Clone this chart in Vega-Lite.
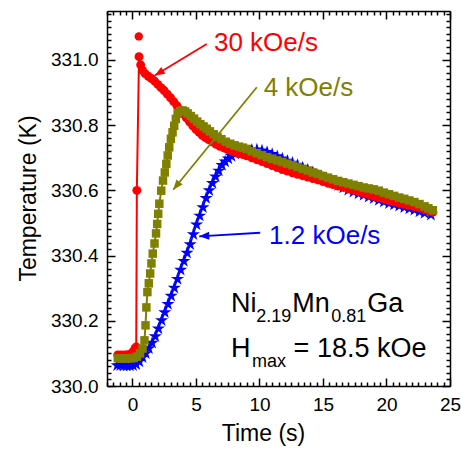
{
  "$schema": "https://vega.github.io/schema/vega-lite/v6.json",
  "width": 343,
  "height": 375,
  "autosize": "none",
  "padding": {"left": 107, "top": 11, "right": 11, "bottom": 65},
  "background": "white",
  "config": {
    "view": {"stroke": null},
    "axis": {"grid": false, "domainColor": "black", "domainWidth": 1.5, "tickColor": "black", "tickWidth": 1.5, "labelColor": "black", "labelFont": "Liberation Sans", "labelFontSize": 19, "titleFont": "Liberation Sans", "titleFontSize": 23, "titleFontWeight": "normal", "titleColor": "black", "labelOverlap": false, "labelFlush": false}
  },
  "datasets": {
    "red": [
      {"time": -1.15, "temp": 330.095}, {"time": -0.9, "temp": 330.095}, {"time": -0.65, "temp": 330.095}, {"time": -0.4, "temp": 330.096}, {"time": -0.15, "temp": 330.098}, {"time": 0.05, "temp": 330.105}, {"time": 0.2, "temp": 330.115}, {"time": 0.3, "temp": 330.12}, {"time": 0.35, "temp": 330.6}, {"time": 0.52, "temp": 331.01}, {"time": 0.65, "temp": 330.985}, {"time": 0.8, "temp": 330.968}, {"time": 1.0, "temp": 330.958}, {"time": 1.25, "temp": 330.95}, {"time": 1.5, "temp": 330.943}, {"time": 1.75, "temp": 330.935}, {"time": 2.0, "temp": 330.925}, {"time": 2.25, "temp": 330.915}, {"time": 2.5, "temp": 330.906}, {"time": 2.75, "temp": 330.895}, {"time": 3.0, "temp": 330.884}, {"time": 3.25, "temp": 330.872}, {"time": 3.5, "temp": 330.86}, {"time": 3.75, "temp": 330.847}, {"time": 4.0, "temp": 330.834}, {"time": 4.25, "temp": 330.822}, {"time": 4.5, "temp": 330.81}, {"time": 4.75, "temp": 330.798}, {"time": 5.0, "temp": 330.787}, {"time": 5.25, "temp": 330.778}, {"time": 5.5, "temp": 330.769}, {"time": 5.75, "temp": 330.762}, {"time": 6.0, "temp": 330.756}, {"time": 6.3, "temp": 330.748}, {"time": 6.6, "temp": 330.741}, {"time": 6.9, "temp": 330.735}, {"time": 7.2, "temp": 330.73}, {"time": 7.5, "temp": 330.725}, {"time": 7.8, "temp": 330.721}, {"time": 8.1, "temp": 330.717}, {"time": 8.4, "temp": 330.713}, {"time": 8.7, "temp": 330.71}, {"time": 9.0, "temp": 330.706}, {"time": 9.4, "temp": 330.7}, {"time": 9.8, "temp": 330.694}, {"time": 10.2, "temp": 330.688}, {"time": 10.6, "temp": 330.682}, {"time": 11.0, "temp": 330.676}, {"time": 11.4, "temp": 330.67}, {"time": 11.8, "temp": 330.664}, {"time": 12.2, "temp": 330.659}, {"time": 12.6, "temp": 330.654}, {"time": 13.0, "temp": 330.649}, {"time": 13.4, "temp": 330.645}, {"time": 13.8, "temp": 330.641}, {"time": 14.2, "temp": 330.636}, {"time": 14.6, "temp": 330.632}, {"time": 15.0, "temp": 330.627}, {"time": 15.4, "temp": 330.622}, {"time": 15.8, "temp": 330.618}, {"time": 16.2, "temp": 330.613}, {"time": 16.6, "temp": 330.609}, {"time": 17.0, "temp": 330.605}, {"time": 17.4, "temp": 330.6}, {"time": 17.8, "temp": 330.596}, {"time": 18.2, "temp": 330.591}, {"time": 18.6, "temp": 330.587}, {"time": 19.0, "temp": 330.582}, {"time": 19.4, "temp": 330.578}, {"time": 19.8, "temp": 330.573}, {"time": 20.2, "temp": 330.569}, {"time": 20.6, "temp": 330.565}, {"time": 21.0, "temp": 330.561}, {"time": 21.4, "temp": 330.557}, {"time": 21.8, "temp": 330.554}, {"time": 22.2, "temp": 330.55}, {"time": 22.6, "temp": 330.546}, {"time": 23.0, "temp": 330.541}, {"time": 23.3, "temp": 330.537}, {"time": 23.65, "temp": 330.533}
    ],
    "spike": [{"time": 0.5, "temp": 331.072}],
    "olive": [
      {"time": -1.15, "temp": 330.085}, {"time": -0.9, "temp": 330.085}, {"time": -0.65, "temp": 330.085}, {"time": -0.4, "temp": 330.085}, {"time": -0.15, "temp": 330.085}, {"time": 0.1, "temp": 330.086}, {"time": 0.35, "temp": 330.09}, {"time": 0.6, "temp": 330.1}, {"time": 0.8, "temp": 330.115}, {"time": 0.95, "temp": 330.14}, {"time": 1.03, "temp": 330.186}, {"time": 1.1, "temp": 330.241}, {"time": 1.18, "temp": 330.288}, {"time": 1.29, "temp": 330.315}, {"time": 1.4, "temp": 330.345}, {"time": 1.5, "temp": 330.376}, {"time": 1.6, "temp": 330.406}, {"time": 1.74, "temp": 330.437}, {"time": 1.86, "temp": 330.468}, {"time": 1.95, "temp": 330.497}, {"time": 2.03, "temp": 330.528}, {"time": 2.12, "temp": 330.559}, {"time": 2.27, "temp": 330.599}, {"time": 2.41, "temp": 330.63}, {"time": 2.55, "temp": 330.655}, {"time": 2.67, "temp": 330.681}, {"time": 2.78, "temp": 330.707}, {"time": 2.9, "temp": 330.732}, {"time": 3.03, "temp": 330.758}, {"time": 3.16, "temp": 330.778}, {"time": 3.29, "temp": 330.798}, {"time": 3.42, "temp": 330.819}, {"time": 3.56, "temp": 330.836}, {"time": 3.75, "temp": 330.843}, {"time": 3.95, "temp": 330.845}, {"time": 4.15, "temp": 330.842}, {"time": 4.35, "temp": 330.836}, {"time": 4.6, "temp": 330.828}, {"time": 4.85, "temp": 330.82}, {"time": 5.1, "temp": 330.811}, {"time": 5.35, "temp": 330.803}, {"time": 5.6, "temp": 330.796}, {"time": 5.85, "temp": 330.789}, {"time": 6.1, "temp": 330.781}, {"time": 6.4, "temp": 330.772}, {"time": 6.7, "temp": 330.764}, {"time": 7.0, "temp": 330.757}, {"time": 7.35, "temp": 330.749}, {"time": 7.7, "temp": 330.743}, {"time": 8.05, "temp": 330.738}, {"time": 8.4, "temp": 330.734}, {"time": 8.7, "temp": 330.731}, {"time": 9.0, "temp": 330.727}, {"time": 9.4, "temp": 330.72}, {"time": 9.8, "temp": 330.714}, {"time": 10.2, "temp": 330.708}, {"time": 10.6, "temp": 330.702}, {"time": 11.0, "temp": 330.697}, {"time": 11.4, "temp": 330.692}, {"time": 11.8, "temp": 330.687}, {"time": 12.2, "temp": 330.682}, {"time": 12.6, "temp": 330.677}, {"time": 13.0, "temp": 330.672}, {"time": 13.4, "temp": 330.666}, {"time": 13.8, "temp": 330.661}, {"time": 14.2, "temp": 330.655}, {"time": 14.6, "temp": 330.65}, {"time": 15.0, "temp": 330.644}, {"time": 15.4, "temp": 330.639}, {"time": 15.8, "temp": 330.634}, {"time": 16.2, "temp": 330.629}, {"time": 16.6, "temp": 330.625}, {"time": 17.0, "temp": 330.621}, {"time": 17.4, "temp": 330.617}, {"time": 17.8, "temp": 330.613}, {"time": 18.2, "temp": 330.609}, {"time": 18.6, "temp": 330.606}, {"time": 19.0, "temp": 330.603}, {"time": 19.4, "temp": 330.599}, {"time": 19.8, "temp": 330.593}, {"time": 20.2, "temp": 330.588}, {"time": 20.6, "temp": 330.583}, {"time": 21.0, "temp": 330.578}, {"time": 21.4, "temp": 330.574}, {"time": 21.8, "temp": 330.569}, {"time": 22.2, "temp": 330.564}, {"time": 22.6, "temp": 330.558}, {"time": 23.0, "temp": 330.551}, {"time": 23.3, "temp": 330.545}, {"time": 23.65, "temp": 330.539}
    ],
    "blue": [
      {"time": -1.2, "temp": 330.063}, {"time": -0.95, "temp": 330.063}, {"time": -0.7, "temp": 330.062}, {"time": -0.45, "temp": 330.062}, {"time": -0.2, "temp": 330.062}, {"time": 0.05, "temp": 330.063}, {"time": 0.3, "temp": 330.066}, {"time": 0.55, "temp": 330.075}, {"time": 0.8, "temp": 330.088}, {"time": 1.05, "temp": 330.1}, {"time": 1.3, "temp": 330.115}, {"time": 1.55, "temp": 330.132}, {"time": 1.8, "temp": 330.152}, {"time": 2.05, "temp": 330.176}, {"time": 2.3, "temp": 330.201}, {"time": 2.55, "temp": 330.226}, {"time": 2.8, "temp": 330.251}, {"time": 3.05, "temp": 330.276}, {"time": 3.3, "temp": 330.301}, {"time": 3.55, "temp": 330.328}, {"time": 3.8, "temp": 330.356}, {"time": 4.05, "temp": 330.383}, {"time": 4.3, "temp": 330.408}, {"time": 4.55, "temp": 330.434}, {"time": 4.8, "temp": 330.465}, {"time": 5.05, "temp": 330.495}, {"time": 5.3, "temp": 330.522}, {"time": 5.55, "temp": 330.548}, {"time": 5.8, "temp": 330.576}, {"time": 6.05, "temp": 330.6}, {"time": 6.3, "temp": 330.622}, {"time": 6.55, "temp": 330.642}, {"time": 6.8, "temp": 330.66}, {"time": 7.05, "temp": 330.677}, {"time": 7.3, "temp": 330.688}, {"time": 7.55, "temp": 330.697}, {"time": 7.8, "temp": 330.705}, {"time": 8.1, "temp": 330.712}, {"time": 8.4, "temp": 330.717}, {"time": 8.7, "temp": 330.72}, {"time": 9.0, "temp": 330.722}, {"time": 9.4, "temp": 330.724}, {"time": 9.8, "temp": 330.725}, {"time": 10.2, "temp": 330.722}, {"time": 10.6, "temp": 330.717}, {"time": 11.0, "temp": 330.711}, {"time": 11.4, "temp": 330.704}, {"time": 11.8, "temp": 330.697}, {"time": 12.2, "temp": 330.69}, {"time": 12.6, "temp": 330.684}, {"time": 13.0, "temp": 330.677}, {"time": 13.4, "temp": 330.67}, {"time": 13.8, "temp": 330.663}, {"time": 14.2, "temp": 330.655}, {"time": 14.6, "temp": 330.647}, {"time": 15.0, "temp": 330.639}, {"time": 15.4, "temp": 330.631}, {"time": 15.8, "temp": 330.623}, {"time": 16.2, "temp": 330.615}, {"time": 16.6, "temp": 330.608}, {"time": 17.0, "temp": 330.601}, {"time": 17.4, "temp": 330.595}, {"time": 17.8, "temp": 330.59}, {"time": 18.2, "temp": 330.585}, {"time": 18.6, "temp": 330.58}, {"time": 19.0, "temp": 330.575}, {"time": 19.4, "temp": 330.57}, {"time": 19.8, "temp": 330.565}, {"time": 20.2, "temp": 330.56}, {"time": 20.6, "temp": 330.556}, {"time": 21.0, "temp": 330.552}, {"time": 21.4, "temp": 330.548}, {"time": 21.8, "temp": 330.544}, {"time": 22.2, "temp": 330.54}, {"time": 22.6, "temp": 330.535}, {"time": 23.0, "temp": 330.53}, {"time": 23.5, "temp": 330.525}
    ],
    "arrowRed": [{"time": 5.85, "temp": 331.049, "time2": 1.76, "temp2": 330.952}],
    "arrowOlive": [{"time": 9.79, "temp": 330.916, "time2": 3.21, "temp2": 330.602}],
    "arrowBlue": [{"time": 10.06, "temp": 330.47, "time2": 5.26, "temp2": 330.459}],
    "labelRed": [{"time": 6.42, "temp": 331.026, "text": "30 kOe/s"}],
    "labelOlive": [{"time": 10.33, "temp": 330.89, "text": "4 kOe/s"}],
    "labelBlue": [{"time": 10.76, "temp": 330.436, "text": "1.2 kOe/s"}],
    "bigText": [
      {"time": 7.765, "temp": 330.227, "text": "Ni"},
      {"time": 12.58, "temp": 330.227, "text": "Mn"},
      {"time": 18.48, "temp": 330.227, "text": "Ga"},
      {"time": 7.765, "temp": 330.089, "text": "H"},
      {"time": 12.69, "temp": 330.089, "text": "= 18.5 kOe"}
    ],
    "subText": [
      {"time": 9.74, "temp": 330.196, "text": "2.19"},
      {"time": 15.66, "temp": 330.196, "text": "0.81"},
      {"time": 9.41, "temp": 330.058, "text": "max"}
    ]
  },
  "layer": [
    {
      "data": {"name": "blue"},
      "mark": {"type": "line", "color": "#0000ff", "strokeWidth": 1.5},
      "encoding": {
        "x": {"field": "time", "type": "quantitative", "scale": {"domain": [-2, 25], "nice": false, "zero": false},
          "axis": {"orient": "bottom", "title": "Time (s)", "titleX": 156, "titleY": 54, "titleBaseline": "alphabetic", "values": [-2,-1.5,-1,-0.5,0,0.5,1,1.5,2,2.5,3,3.5,4,4.5,5,5.5,6,6.5,7,7.5,8,8.5,9,9.5,10,10.5,11,11.5,12,12.5,13,13.5,14,14.5,15,15.5,16,16.5,17,17.5,18,18.5,19,19.5,20,20.5,21,21.5,22,22.5,23,23.5,24,24.5,25],
            "labelExpr": "datum.value % 5 == 0 ? format(datum.value, 'd') : ''",
            "tickSize": {"condition": {"test": "datum.value % 5 == 0", "value": -8}, "value": -4},
            "labelPadding": 17}},
        "y": {"field": "temp", "type": "quantitative", "scale": {"domain": [330, 331.15], "nice": false, "zero": false},
          "axis": {"orient": "left", "title": "Temperature (K)", "titleX": -72, "titleY": 187, "titleBaseline": "alphabetic", "values": [330,330.02,330.04,330.06,330.08,330.1,330.12,330.14,330.16,330.18,330.2,330.22,330.24,330.26,330.28,330.3,330.32,330.34,330.36,330.38,330.4,330.42,330.44,330.46,330.48,330.5,330.52,330.54,330.56,330.58,330.6,330.62,330.64,330.66,330.68,330.7,330.72,330.74,330.76,330.78,330.8,330.82,330.84,330.86,330.88,330.9,330.92,330.94,330.96,330.98,331,331.02,331.04,331.06,331.08,331.1,331.12,331.14],
            "labelExpr": "abs(datum.value*5 - round(datum.value*5)) < 0.01 ? format(datum.value, '.1f') : ''",
            "tickSize": {"condition": {"test": "abs(datum.value*5 - round(datum.value*5)) < 0.01", "value": -8}, "value": -4},
            "labelPadding": 17}}
      }
    },
    {
      "data": {"name": "blue"},
      "mark": {"type": "point", "shape": "M0,-1 L0.22,-0.31 L0.95,-0.31 L0.36,0.12 L0.59,0.81 L0,0.38 L-0.59,0.81 L-0.36,0.12 L-0.95,-0.31 L-0.22,-0.31 Z", "filled": true, "color": "#0000ff", "size": 190, "opacity": 1},
      "encoding": {
        "x": {"field": "time", "type": "quantitative", "scale": {"domain": [-2, 25], "nice": false, "zero": false},
          "axis": {"orient": "top", "title": null, "labels": false, "values": [-2,-1.5,-1,-0.5,0,0.5,1,1.5,2,2.5,3,3.5,4,4.5,5,5.5,6,6.5,7,7.5,8,8.5,9,9.5,10,10.5,11,11.5,12,12.5,13,13.5,14,14.5,15,15.5,16,16.5,17,17.5,18,18.5,19,19.5,20,20.5,21,21.5,22,22.5,23,23.5,24,24.5,25],
            "tickSize": {"condition": {"test": "datum.value % 5 == 0", "value": -8}, "value": -4}}},
        "y": {"field": "temp", "type": "quantitative", "scale": {"domain": [330, 331.15], "nice": false, "zero": false},
          "axis": {"orient": "right", "title": null, "labels": false, "values": [330,330.02,330.04,330.06,330.08,330.1,330.12,330.14,330.16,330.18,330.2,330.22,330.24,330.26,330.28,330.3,330.32,330.34,330.36,330.38,330.4,330.42,330.44,330.46,330.48,330.5,330.52,330.54,330.56,330.58,330.6,330.62,330.64,330.66,330.68,330.7,330.72,330.74,330.76,330.78,330.8,330.82,330.84,330.86,330.88,330.9,330.92,330.94,330.96,330.98,331,331.02,331.04,331.06,331.08,331.1,331.12,331.14],
            "tickSize": {"condition": {"test": "abs(datum.value*5 - round(datum.value*5)) < 0.01", "value": -8}, "value": -4}}}
      }
    },
    {
      "data": {"name": "red"},
      "mark": {"type": "line", "color": "#ff0000", "strokeWidth": 2},
      "encoding": {
        "x": {"field": "time", "type": "quantitative", "scale": {"domain": [-2, 25], "nice": false, "zero": false}, "axis": null},
        "y": {"field": "temp", "type": "quantitative", "scale": {"domain": [330, 331.15], "nice": false, "zero": false}, "axis": null}
      }
    },
    {
      "data": {"name": "red"},
      "mark": {"type": "point", "shape": "circle", "filled": true, "color": "#ff0000", "size": 80, "opacity": 1},
      "encoding": {
        "x": {"field": "time", "type": "quantitative", "axis": null},
        "y": {"field": "temp", "type": "quantitative", "axis": null}
      }
    },
    {
      "data": {"name": "spike"},
      "mark": {"type": "point", "shape": "circle", "filled": true, "color": "#ff0000", "size": 70, "opacity": 1},
      "encoding": {
        "x": {"field": "time", "type": "quantitative", "axis": null},
        "y": {"field": "temp", "type": "quantitative", "axis": null}
      }
    },
    {
      "data": {"name": "olive"},
      "mark": {"type": "line", "color": "#808000", "strokeWidth": 2},
      "encoding": {
        "x": {"field": "time", "type": "quantitative", "axis": null},
        "y": {"field": "temp", "type": "quantitative", "axis": null}
      }
    },
    {
      "data": {"name": "olive"},
      "mark": {"type": "point", "shape": "square", "filled": true, "color": "#808000", "size": 72, "opacity": 1},
      "encoding": {
        "x": {"field": "time", "type": "quantitative", "axis": null},
        "y": {"field": "temp", "type": "quantitative", "axis": null}
      }
    },
    {
      "data": {"name": "arrowRed"},
      "mark": {"type": "rule", "color": "#ff0000", "strokeWidth": 1.8},
      "encoding": {
        "x": {"field": "time", "type": "quantitative", "axis": null}, "y": {"field": "temp", "type": "quantitative", "axis": null},
        "x2": {"field": "time2"}, "y2": {"field": "temp2"}
      }
    },
    {
      "data": {"name": "arrowRed"},
      "mark": {"type": "point", "shape": "M0,0 L-1,-0.4 L-1,0.4 Z", "filled": true, "color": "#ff0000", "size": 400, "angle": 148.5, "opacity": 1},
      "encoding": {
        "x": {"field": "time2", "type": "quantitative", "axis": null}, "y": {"field": "temp2", "type": "quantitative", "axis": null}
      }
    },
    {
      "data": {"name": "arrowOlive"},
      "mark": {"type": "rule", "color": "#808000", "strokeWidth": 1.8},
      "encoding": {
        "x": {"field": "time", "type": "quantitative", "axis": null}, "y": {"field": "temp", "type": "quantitative", "axis": null},
        "x2": {"field": "time2"}, "y2": {"field": "temp2"}
      }
    },
    {
      "data": {"name": "arrowOlive"},
      "mark": {"type": "point", "shape": "M0,0 L-1,-0.4 L-1,0.4 Z", "filled": true, "color": "#808000", "size": 400, "angle": 129.1, "opacity": 1},
      "encoding": {
        "x": {"field": "time2", "type": "quantitative", "axis": null}, "y": {"field": "temp2", "type": "quantitative", "axis": null}
      }
    },
    {
      "data": {"name": "arrowBlue"},
      "mark": {"type": "rule", "color": "#0000ff", "strokeWidth": 1.8},
      "encoding": {
        "x": {"field": "time", "type": "quantitative", "axis": null}, "y": {"field": "temp", "type": "quantitative", "axis": null},
        "x2": {"field": "time2"}, "y2": {"field": "temp2"}
      }
    },
    {
      "data": {"name": "arrowBlue"},
      "mark": {"type": "point", "shape": "M0,0 L-1,-0.4 L-1,0.4 Z", "filled": true, "color": "#0000ff", "size": 400, "angle": 176.5, "opacity": 1},
      "encoding": {
        "x": {"field": "time2", "type": "quantitative", "axis": null}, "y": {"field": "temp2", "type": "quantitative", "axis": null}
      }
    },
    {
      "data": {"name": "labelRed"},
      "mark": {"type": "text", "color": "#ff0000", "font": "Liberation Sans", "fontSize": 26, "align": "left", "baseline": "alphabetic"},
      "encoding": {
        "x": {"field": "time", "type": "quantitative", "axis": null}, "y": {"field": "temp", "type": "quantitative", "axis": null}, "text": {"field": "text"}
      }
    },
    {
      "data": {"name": "labelOlive"},
      "mark": {"type": "text", "color": "#808000", "font": "Liberation Sans", "fontSize": 26, "align": "left", "baseline": "alphabetic"},
      "encoding": {
        "x": {"field": "time", "type": "quantitative", "axis": null}, "y": {"field": "temp", "type": "quantitative", "axis": null}, "text": {"field": "text"}
      }
    },
    {
      "data": {"name": "labelBlue"},
      "mark": {"type": "text", "color": "#0000ff", "font": "Liberation Sans", "fontSize": 26, "align": "left", "baseline": "alphabetic"},
      "encoding": {
        "x": {"field": "time", "type": "quantitative", "axis": null}, "y": {"field": "temp", "type": "quantitative", "axis": null}, "text": {"field": "text"}
      }
    },
    {
      "data": {"name": "bigText"},
      "mark": {"type": "text", "color": "black", "font": "Liberation Sans", "fontSize": 27, "align": "left", "baseline": "alphabetic"},
      "encoding": {
        "x": {"field": "time", "type": "quantitative", "axis": null}, "y": {"field": "temp", "type": "quantitative", "axis": null}, "text": {"field": "text"}
      }
    },
    {
      "data": {"name": "subText"},
      "mark": {"type": "text", "color": "black", "font": "Liberation Sans", "fontSize": 18, "align": "left", "baseline": "alphabetic"},
      "encoding": {
        "x": {"field": "time", "type": "quantitative", "axis": null}, "y": {"field": "temp", "type": "quantitative", "axis": null}, "text": {"field": "text"}
      }
    }
  ],
  "resolve": {"axis": {"x": "independent", "y": "independent"}}
}
